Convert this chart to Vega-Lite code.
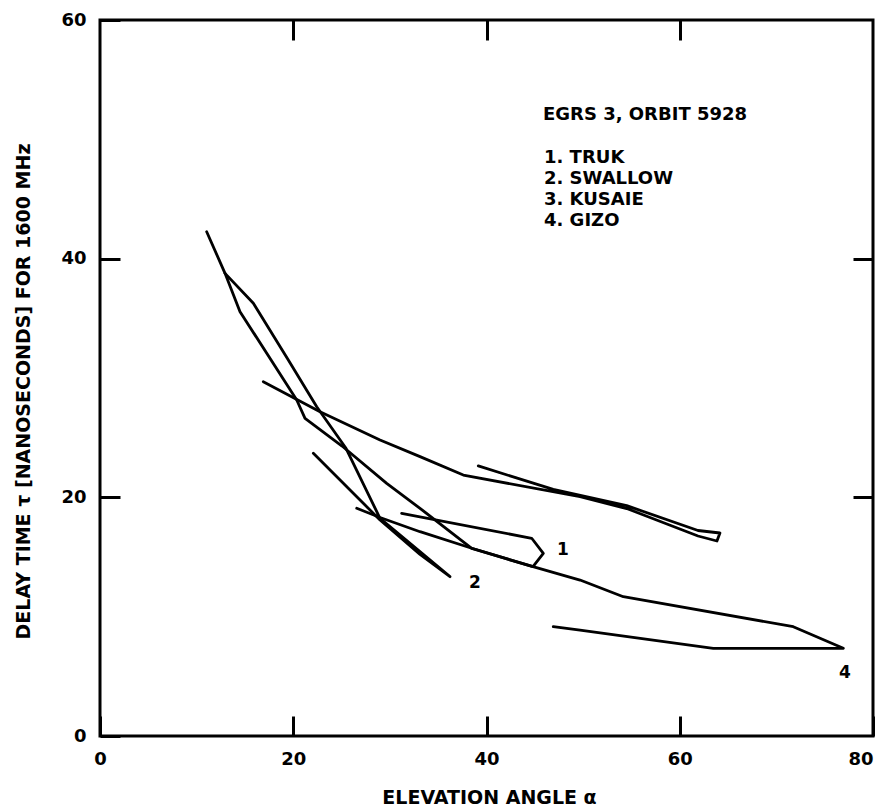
{
  "$schema": "https://vega.github.io/schema/vega-lite/v6.json",
  "width": 773,
  "height": 716,
  "autosize": {"type": "none"},
  "padding": {"left": 100, "top": 20, "right": 9, "bottom": 76},
  "background": "white",
  "config": {
    "font": "DejaVu Sans",
    "view": {"stroke": "black", "strokeWidth": 3},
    "axis": {"grid": false, "domain": false, "tickColor": "black", "tickWidth": 3, "labelColor": "black", "titleColor": "black"}
  },
  "datasets": {
    "curves": [
      {"c": "GIZO", "i": 1, "x": 11.04, "y": 42.26},
      {"c": "GIZO", "i": 2, "x": 12.94, "y": 38.77},
      {"c": "GIZO", "i": 3, "x": 14.49, "y": 35.56},
      {"c": "GIZO", "i": 4, "x": 20.36, "y": 28.16},
      {"c": "GIZO", "i": 5, "x": 21.22, "y": 26.62},
      {"c": "GIZO", "i": 6, "x": 25.05, "y": 24.3},
      {"c": "GIZO", "i": 7, "x": 29.67, "y": 21.17},
      {"c": "GIZO", "i": 8, "x": 33.12, "y": 19.08},
      {"c": "GIZO", "i": 9, "x": 38.47, "y": 15.73},
      {"c": "GIZO", "i": 10, "x": 44.81, "y": 14.19},
      {"c": "GIZO", "i": 11, "x": 49.68, "y": 13.07},
      {"c": "GIZO", "i": 12, "x": 54.16, "y": 11.67},
      {"c": "GIZO", "i": 13, "x": 71.75, "y": 9.16},
      {"c": "GIZO", "i": 14, "x": 76.93, "y": 7.35},
      {"c": "GIZO", "i": 15, "x": 63.47, "y": 7.35},
      {"c": "GIZO", "i": 16, "x": 49.68, "y": 8.88},
      {"c": "GIZO", "i": 17, "x": 46.91, "y": 9.16},
      {"c": "SWALLOW", "i": 1, "x": 12.94, "y": 38.77},
      {"c": "SWALLOW", "i": 2, "x": 15.87, "y": 36.26},
      {"c": "SWALLOW", "i": 3, "x": 19.49, "y": 31.51},
      {"c": "SWALLOW", "i": 4, "x": 22.43, "y": 27.59},
      {"c": "SWALLOW", "i": 5, "x": 25.46, "y": 24.11},
      {"c": "SWALLOW", "i": 6, "x": 28.98, "y": 18.24},
      {"c": "SWALLOW", "i": 7, "x": 36.22, "y": 13.35},
      {"c": "SWALLOW", "i": 8, "x": 33.12, "y": 15.21},
      {"c": "SWALLOW", "i": 9, "x": 28.98, "y": 18.1},
      {"c": "SWALLOW", "i": 10, "x": 22.08, "y": 23.69},
      {"c": "TRUK", "i": 1, "x": 26.57, "y": 19.08},
      {"c": "TRUK", "i": 2, "x": 28.98, "y": 18.31},
      {"c": "TRUK", "i": 3, "x": 33.12, "y": 17.12},
      {"c": "TRUK", "i": 4, "x": 38.47, "y": 15.73},
      {"c": "TRUK", "i": 5, "x": 44.81, "y": 14.19},
      {"c": "TRUK", "i": 6, "x": 45.88, "y": 15.31},
      {"c": "TRUK", "i": 7, "x": 44.68, "y": 16.57},
      {"c": "TRUK", "i": 8, "x": 31.22, "y": 18.66},
      {"c": "KUSAIE", "i": 1, "x": 16.9, "y": 29.69},
      {"c": "KUSAIE", "i": 2, "x": 22.77, "y": 27.18},
      {"c": "KUSAIE", "i": 3, "x": 28.98, "y": 24.8},
      {"c": "KUSAIE", "i": 4, "x": 33.12, "y": 23.41},
      {"c": "KUSAIE", "i": 5, "x": 37.6, "y": 21.87},
      {"c": "KUSAIE", "i": 6, "x": 49.68, "y": 20.05},
      {"c": "KUSAIE", "i": 7, "x": 54.51, "y": 19.06},
      {"c": "KUSAIE", "i": 8, "x": 61.89, "y": 16.76},
      {"c": "KUSAIE", "i": 9, "x": 63.85, "y": 16.34},
      {"c": "KUSAIE", "i": 10, "x": 64.16, "y": 17.01},
      {"c": "KUSAIE", "i": 11, "x": 61.89, "y": 17.22},
      {"c": "KUSAIE", "i": 12, "x": 54.51, "y": 19.3},
      {"c": "KUSAIE", "i": 13, "x": 46.91, "y": 20.66},
      {"c": "KUSAIE", "i": 14, "x": 39.15, "y": 22.63}
    ],
    "legend": [
      {"x": 45.85, "y": 52.04, "label": "EGRS 3, ORBIT 5928"},
      {"x": 45.95, "y": 48.44, "label": "1. TRUK"},
      {"x": 45.95, "y": 46.68, "label": "2. SWALLOW"},
      {"x": 45.95, "y": 44.92, "label": "3. KUSAIE"},
      {"x": 45.95, "y": 43.16, "label": "4. GIZO"}
    ],
    "tags": [
      {"x": 47.92, "y": 15.59, "label": "1"},
      {"x": 38.81, "y": 12.82, "label": "2"},
      {"x": 77.1, "y": 5.28, "label": "4"}
    ]
  },
  "layer": [
    {
      "data": {"name": "curves"},
      "mark": {"type": "line", "color": "black", "strokeWidth": 2.8, "strokeJoin": "round", "strokeCap": "round"},
      "encoding": {
        "x": {"field": "x", "type": "quantitative", "scale": {"domain": [0, 80], "nice": false, "zero": false},
          "axis": {"orient": "bottom", "values": [0, 20, 40, 60, 80], "title": "ELEVATION ANGLE α", "tickSize": -20, "labelFont": "DejaVu Sans", "labelFontSize": 18, "labelFontWeight": "bold", "labelPadding": 34, "labelFlush": false, "labelOverlap": false, "labelAlign": {"expr": "datum.value == 80 ? 'right' : 'center'"}, "labelOffset": 0, "titleFont": "DejaVu Sans", "titleFontSize": 19, "titleFontWeight": "bold", "titleX": 389, "titleY": 61, "titleBaseline": "middle"}},
        "y": {"field": "y", "type": "quantitative", "scale": {"domain": [0, 60], "nice": false, "zero": false},
          "axis": {"orient": "left", "values": [0, 20, 40, 60], "title": "DELAY TIME τ [NANOSECONDS] FOR 1600 MHz", "tickSize": -20, "labelFont": "DejaVu Sans", "labelFontSize": 18, "labelFontWeight": "bold", "labelPadding": 34, "labelFlush": false, "labelOverlap": false, "titleFont": "DejaVu Sans", "titleFontSize": 19, "titleFontWeight": "bold", "titleX": -77, "titleY": 371, "titleBaseline": "middle", "titleAngle": -90}},
        "detail": {"field": "c"},
        "order": {"field": "i", "type": "quantitative"}
      }
    },
    {
      "data": {"name": "legend"},
      "mark": {"type": "text", "align": "left", "baseline": "middle", "font": "DejaVu Sans", "fontSize": 18, "fontWeight": "bold", "color": "black"},
      "encoding": {
        "x": {"field": "x", "type": "quantitative", "scale": {"domain": [0, 80], "nice": false, "zero": false},
          "axis": {"orient": "top", "values": [20, 40, 60], "labels": false, "title": null, "tickSize": -20}},
        "y": {"field": "y", "type": "quantitative", "scale": {"domain": [0, 60], "nice": false, "zero": false},
          "axis": {"orient": "right", "values": [20, 40], "labels": false, "title": null, "tickSize": -20}},
        "text": {"field": "label"}
      }
    },
    {
      "data": {"name": "tags"},
      "mark": {"type": "text", "align": "center", "baseline": "middle", "font": "DejaVu Sans", "fontSize": 17, "fontWeight": "bold", "color": "black"},
      "encoding": {
        "x": {"field": "x", "type": "quantitative", "scale": {"domain": [0, 80], "nice": false, "zero": false}, "axis": null},
        "y": {"field": "y", "type": "quantitative", "scale": {"domain": [0, 60], "nice": false, "zero": false}, "axis": null},
        "text": {"field": "label"}
      }
    }
  ]
}
